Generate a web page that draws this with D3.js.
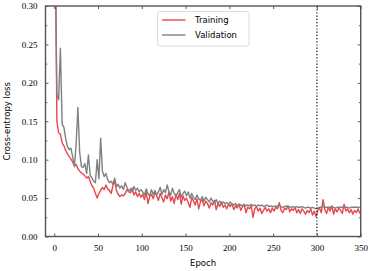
<!DOCTYPE html>
<html>
<head>
<meta charset="utf-8">
<script src="https://cdn.jsdelivr.net/npm/d3@7"></script>
<style>
  body { margin: 0; background: #fff; }
  .tick text { font-family: "Liberation Serif", "DejaVu Serif", serif; font-size: 9px; fill: #000; }
  .lab { font-family: "DejaVu Sans", sans-serif; font-size: 8.5px; fill: #000; }
</style>
</head>
<body>
<div id="vis"></div>
<script>
// epochs (every 2nd epoch logged)
var epochs = d3.range(1, 350, 2);

var training = [
  0.400, 0.150, 0.135, 0.133, 0.122, 0.118, 0.112, 0.108, 0.104, 0.101, 0.097, 0.092, 0.094, 0.088, 0.085, 0.083, 0.081, 0.079, 0.076, 0.078, 0.072, 0.066, 0.063, 0.056, 0.050,
  0.056, 0.060, 0.064, 0.061, 0.067, 0.062, 0.060, 0.056, 0.066, 0.073, 0.060, 0.055, 0.052, 0.054, 0.053, 0.056, 0.061, 0.058, 0.057, 0.063, 0.054, 0.058, 0.052, 0.056, 0.051,
  0.055, 0.048, 0.058, 0.043, 0.052, 0.055, 0.049, 0.058, 0.053, 0.047, 0.056, 0.050, 0.045, 0.054, 0.049, 0.058, 0.046, 0.052, 0.043, 0.055, 0.048, 0.056, 0.042, 0.053, 0.047,
  0.050, 0.044, 0.038, 0.051, 0.046, 0.041, 0.049, 0.036, 0.045, 0.048, 0.040, 0.046, 0.043, 0.037, 0.044, 0.041, 0.047, 0.035, 0.043, 0.039, 0.045, 0.038, 0.041, 0.036, 0.042,
  0.039, 0.043, 0.035, 0.040, 0.037, 0.042, 0.034, 0.039, 0.041, 0.031, 0.038, 0.036, 0.040, 0.025, 0.036, 0.039, 0.033, 0.037, 0.030, 0.034, 0.038, 0.033, 0.036, 0.031, 0.037,
  0.033, 0.038, 0.036, 0.044, 0.034, 0.031, 0.037, 0.035, 0.040, 0.032, 0.036, 0.034, 0.038, 0.031, 0.035, 0.030, 0.036, 0.033, 0.029, 0.034, 0.031, 0.036, 0.028, 0.033, 0.026,
  0.034, 0.037, 0.031, 0.048, 0.035, 0.030, 0.038, 0.033, 0.040, 0.029, 0.036, 0.032, 0.037, 0.034, 0.030, 0.042, 0.033, 0.036, 0.031, 0.035, 0.029, 0.034, 0.031, 0.036, 0.030
];

var validation = [
  0.380, 0.185, 0.178, 0.245, 0.146, 0.142, 0.128, 0.117, 0.113, 0.115, 0.104, 0.091, 0.120, 0.168, 0.110, 0.091, 0.090, 0.095, 0.082, 0.106, 0.080, 0.076, 0.072, 0.070, 0.100,
  0.075, 0.128, 0.085, 0.078, 0.082, 0.074, 0.070, 0.072, 0.068, 0.076, 0.065, 0.068, 0.063, 0.066, 0.061, 0.070, 0.064, 0.059, 0.062, 0.058, 0.065, 0.060, 0.063, 0.058, 0.061,
  0.058, 0.054, 0.062, 0.056, 0.053, 0.061, 0.055, 0.060, 0.054, 0.058, 0.064, 0.055, 0.061, 0.057, 0.067, 0.058, 0.054, 0.063, 0.056, 0.052, 0.057, 0.061, 0.051, 0.056, 0.059,
  0.053, 0.058, 0.050, 0.056, 0.051, 0.048, 0.054, 0.049, 0.047, 0.052, 0.046, 0.051, 0.048, 0.045, 0.050, 0.046, 0.044, 0.048, 0.043, 0.046, 0.042, 0.045, 0.043, 0.044, 0.042,
  0.045, 0.042, 0.041, 0.043, 0.040, 0.042, 0.041, 0.040, 0.042, 0.040, 0.041, 0.040, 0.042, 0.040, 0.041, 0.039, 0.041, 0.040, 0.041, 0.039, 0.040, 0.041, 0.039, 0.040, 0.039,
  0.039, 0.040, 0.039, 0.041, 0.039, 0.038, 0.039, 0.040, 0.038, 0.039, 0.038, 0.039, 0.038, 0.039, 0.038, 0.038, 0.039, 0.038, 0.037, 0.038, 0.038, 0.037, 0.038, 0.037, 0.036,
  0.037, 0.038, 0.038, 0.039, 0.038, 0.038, 0.038, 0.038, 0.038, 0.038, 0.037, 0.038, 0.038, 0.038, 0.038, 0.038, 0.038, 0.038, 0.037, 0.038, 0.038, 0.038, 0.038, 0.038, 0.038
];

var xTicks = [0, 50, 100, 150, 200, 250, 300, 350];
var yTicks = [0.00, 0.05, 0.10, 0.15, 0.20, 0.25, 0.30];
var yMinor = [0.025, 0.075, 0.125, 0.175, 0.225, 0.275];
var markerEpoch = 300;
var seriesNames = ["Training", "Validation"];
var seriesColors = ["#e5484d", "#808080"];

var W = 372, H = 271;
var margin = {top: 6, right: 11.3, bottom: 34.5, left: 45.5};
var width = W - margin.left - margin.right,
    height = H - margin.top - margin.bottom;

var svg = d3.select("#vis").append("svg")
  .attr("width", W).attr("height", H)
  .append("g")
  .attr("transform", "translate(" + margin.left + "," + margin.top + ")");

var x = d3.scaleLinear().domain([-10, 350]).range([0, width]);
var y = d3.scaleLinear().domain([0, 0.30]).range([height, 0]);

svg.append("clipPath").attr("id", "clip")
  .append("rect").attr("width", width).attr("height", height);

var line = d3.line()
  .x(function(d, i) { return x(epochs[i]); })
  .y(function(d) { return y(d); });

var plot = svg.append("g").attr("clip-path", "url(#clip)");
[training, validation].forEach(function(s, k) {
  plot.append("path")
    .datum(s)
    .attr("fill", "none")
    .attr("stroke", seriesColors[k])
    .attr("stroke-width", 1.4)
    .attr("stroke-linejoin", "round")
    .attr("d", line);
});

// vertical marker
svg.append("line")
  .attr("x1", x(markerEpoch)).attr("x2", x(markerEpoch))
  .attr("y1", 0).attr("y2", height)
  .attr("stroke", "#000")
  .attr("stroke-width", 1.2)
  .attr("stroke-dasharray", "1.2,2");

// axes (ticks point inward)
var axisColor = "#555";
function styleAxis(g) {
  g.select(".domain").remove();
  g.selectAll(".tick line").attr("stroke", "#333").attr("stroke-width", 0.8);
}

svg.append("g")
  .attr("transform", "translate(0," + height + ")")
  .call(d3.axisBottom(x).tickValues(xTicks).tickSize(-3).tickPadding(8).tickFormat(d3.format("d")))
  .call(styleAxis);
svg.append("g")
  .call(d3.axisTop(x).tickValues(xTicks).tickSize(-3).tickFormat(""))
  .call(styleAxis);
svg.append("g")
  .call(d3.axisLeft(y).tickValues(yTicks).tickSize(-3).tickPadding(8).tickFormat(d3.format(".2f")))
  .call(styleAxis);
svg.append("g")
  .call(d3.axisLeft(y).tickValues(yMinor).tickSize(-1.8).tickFormat(""))
  .call(styleAxis);
svg.append("g")
  .attr("transform", "translate(" + width + ",0)")
  .call(d3.axisRight(y).tickValues(yTicks).tickSize(-3).tickFormat(""))
  .call(styleAxis);
svg.append("g")
  .attr("transform", "translate(" + width + ",0)")
  .call(d3.axisRight(y).tickValues(yMinor).tickSize(-1.8).tickFormat(""))
  .call(styleAxis);

svg.append("rect")
  .attr("width", width).attr("height", height)
  .attr("fill", "none")
  .attr("stroke", axisColor)
  .attr("stroke-width", 1.4);

// labels
svg.append("text")
  .attr("class", "lab")
  .attr("text-anchor", "middle")
  .attr("x", width / 2)
  .attr("y", height + 29)
  .text("Epoch");

svg.append("text")
  .attr("class", "lab")
  .attr("text-anchor", "middle")
  .attr("transform", "translate(" + (-margin.left + 10) + "," + (height / 2) + ") rotate(-90)")
  .text("Cross-entropy loss");

// legend
var lg = svg.append("g").attr("transform", "translate(" + (157.5 - margin.left) + "," + (11.5 - margin.top) + ")");
lg.append("rect")
  .attr("width", 91.5).attr("height", 34.5)
  .attr("rx", 2.5)
  .attr("fill", "#fff")
  .attr("fill-opacity", 0.85)
  .attr("stroke", "#d8d8d8")
  .attr("stroke-width", 0.9);
seriesNames.forEach(function(name, i) {
  var yy = 8.5 + i * 15;
  lg.append("line")
    .attr("x1", 4.5).attr("x2", 28)
    .attr("y1", yy).attr("y2", yy)
    .attr("stroke", seriesColors[i])
    .attr("stroke-width", 1.4);
  lg.append("text")
    .attr("class", "lab")
    .attr("x", 37.5)
    .attr("y", yy + 3)
    .text(name);
});
</script>
</body>
</html>
